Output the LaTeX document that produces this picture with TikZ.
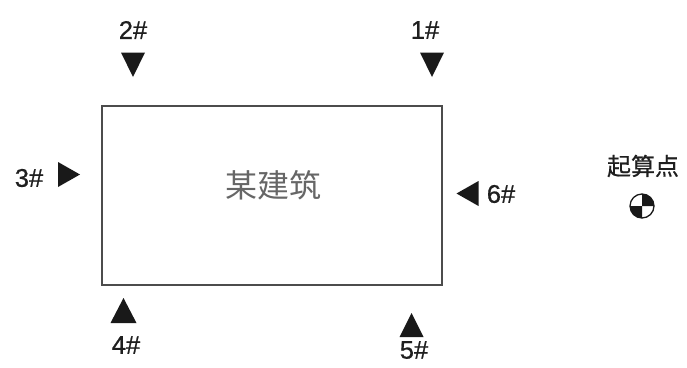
\documentclass[tikz,border=0pt]{standalone}
\usepackage{fontspec}
\setmainfont{Liberation Sans}
\newfontfamily\lblfont[FakeBold=0.8]{Liberation Sans}
\newfontfamily\cjk{Noto Sans CJK SC}
\newfontfamily\cjkb[FakeBold=0.6]{Noto Sans CJK SC}
\begin{document}
\begin{tikzpicture}[x=1pt,y=-1pt,
  lbl/.style={font=\lblfont\fontsize{25.5}{25.5}\selectfont, text=black!88, inner sep=0pt},
  mark fill/.style={fill=black!90},
  bldg/.style={draw=black!70, line width=1.2pt, fill=white}]
\useasboundingbox[fill=white] (0,0) rectangle (687,367);
% building
\node[bldg, minimum width=340pt, minimum height=179pt, inner sep=0pt] (b) at (272,195.5) {};
\node[font=\cjk\fontsize{32}{32}\selectfont, text=black!60, inner sep=0pt] (bt) at (273,185) {某建筑};
% marker centers
\coordinate (t1) at (432,64.5);
\coordinate (t2) at (133,64.5);
\coordinate (t3) at (69,174.5);
\coordinate (t4) at (123.5,310.5);
\coordinate (t5) at (411.5,325);
\coordinate (t6) at (467.5,193.5);
% triangles
\fill[mark fill, shift={(t1)}] (-12,-12) -- (12,-12) -- (0,12.5) -- cycle;
\fill[mark fill, shift={(t2)}] (-12,-12) -- (12,-12) -- (0,12.5) -- cycle;
\fill[mark fill, shift={(t3)}] (-11,-12.5) -- (11,0) -- (-11,12.5) -- cycle;
\fill[mark fill, shift={(t6)}] (11,-12.5) -- (-11,0) -- (11,12.5) -- cycle;
\fill[mark fill, shift={(t4)}] (-13,12.5) -- (13,12.5) -- (0,-12.5) -- cycle;
\fill[mark fill, shift={(t5)}] (-12,12) -- (12,12) -- (0,-12) -- cycle;
% labels
\node[lbl] (l1) at (425,30) {1\#};
\node[lbl] (l2) at (133,30) {2\#};
\node[lbl] (l3) at (29,178) {3\#};
\node[lbl] (l6) at (501,194) {6\#};
\node[lbl] (l4) at (126,345) {4\#};
\node[lbl] (l5) at (414,350) {5\#};
% origin point
\node[font=\cjkb\fontsize{24}{24}\selectfont, text=black!88, inner sep=0pt] (q) at (643,166) {起算点};
\coordinate (o) at (642,206);
\fill[white] (o) circle (12);
\fill[black!90] (o) -- ++(-12,0) arc[start angle=180, end angle=90, radius=12] -- cycle;
\fill[black!90] (o) -- ++(12,0) arc[start angle=0, end angle=-90, radius=12] -- cycle;
\draw[black!90, line width=1.3pt] (o) circle (12);
\end{tikzpicture}
\end{document}
